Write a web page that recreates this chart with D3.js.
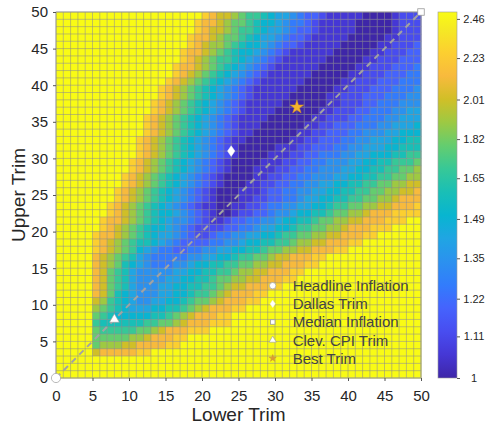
<!DOCTYPE html>
<html>
<head>
<meta charset="utf-8">
<script src="https://cdn.jsdelivr.net/npm/d3@7"></script>
<style>
  body { margin: 0; background: #fff; }
  text { font-family: "Liberation Sans", Arial, Helvetica, sans-serif; }
</style>
</head>
<body>
<svg id="chart" width="485" height="431"></svg>
<script>
/* Trim heatmap, D3 */

// one row per upper trim (49 at the top down to 0), one hex code per lower trim 0..49
var cellRows = [
    "ffffffffff ffffffffff edccba9987 6654332111 1100001222",
    "ffffffffff fffffffffe ddcbaa9877 6544321111 1000001222",
    "ffffffffff fffffffffe dccba99876 6543321111 1000001222",
    "ffffffffff ffffffffed dcbaa98766 5433211111 0000011222",
    "ffffffffff ffffffffed cbba987765 4332111110 0000112223",
    "ffffffffff fffffffedd cba9877654 3211111100 0001122233",
    "ffffffffff fffffffedc ba99876543 2111111000 0011222333",
    "ffffffffff ffffffeddc ba98765432 1111110000 0112223334",
    "ffffffffff ffffffedcb a987654321 1111100000 1122233344",
    "ffffffffff fffffedcba 9876543211 1111000001 1222333444",
    "ffffffffff ffffedcba9 8765432111 1110000011 2223334445",
    "ffffffffff ffffedcba9 8765432111 1100000112 2233344455",
    "ffffffffff fffedcba98 7654321111 1000000112 2233444555",
    "ffffffffff fffedcba98 7654321111 0000001122 2334445566",
    "ffffffffff ffedcba987 6543211110 0000011222 3344455666",
    "ffffffffff ffedcba987 6543211100 0000112233 3444556667",
    "ffffffffff ffedcba987 6543211000 0001122333 4455566777",
    "ffffffffff fedcba9876 5432110000 0011223334 4556667788",
    "ffffffffff fedcba9876 5432100000 1112233344 5566677888",
    "ffffffffff fedcba9876 5432100001 1122334445 5667778899",
    "ffffffffff edcba98765 4321000011 1223344555 667788999a",
    "ffffffffff edcba98765 4321000111 2233445556 6778899aab",
    "fffffffffe dcba987654 3210000112 2334455566 778899aabb",
    "fffffffffe dcba987654 3210001122 3344556677 8899aabbcc",
    "ffffffffed cba9876543 2100011123 3445566778 899aabbccd",
    "ffffffffed cba9876543 2100011223 3445667788 99aabbcddd",
    "fffffffedc ba98765432 1100112234 4556677899 aabbccddde",
    "fffffffedc ba98776543 2100122334 55677889aa bbcdddeeee",
    "ffffffeddc ba98765543 2112334455 677889aabb ccdddeeeff",
    "ffffffedcb a987765432 2223344566 77899aabbc dddeeeffff",
    "fffffeddcb a987665432 2344556677 899aabbccd ddeeffffff",
    "fffffedcba 9887654333 3445567788 99abbccddd eeffffffff",
    "fffffedcba 9765443344 556677889a abbccdddee ffffffffff",
    "fffffdcba9 8654444455 6677899aab ccdddeefff ffffffffff",
    "fffffdcba8 7654445567 78899aabbc cdddeeffff ffffffffff",
    "fffffdca98 6555556677 8899abbccd ddeeffffff ffffffffff",
    "fffffdca98 6555566778 89aabbccdd deefffffff ffffffffff",
    "fffffdca98 6555667788 99abccddde efffffffff ffffffffff",
    "fffffdca87 6555667789 9abcdddeef ffffffffff ffffffffff",
    "fffffcb987 655667789a abcdddeeff ffffffffff ffffffffff",
    "fffffba987 66677889ab cdddeeffff ffffffffff ffffffffff",
    "fffffa9877 777889abcd ddeeffffff ffffffffff ffffffffff",
    "fffff98888 8899aabcdd deeeffffff ffffffffff ffffffffff",
    "fffffa9999 9aabcdddee efffffffff ffffffffff ffffffffff",
    "fffffaaaaa bbcdddeeff ffffffffff ffffffffff ffffffffff",
    "fffffabbbc cddddeefff ffffffffff ffffffffff ffffffffff",
    "fffffcdddd deefffffff ffffffffff ffffffffff ffffffffff",
    "ffffffffff ffffffffff ffffffffff ffffffffff ffffffffff",
    "ffffffffff ffffffffff ffffffffff ffffffffff ffffffffff",
    "ffffffffff ffffffffff ffffffffff ffffffffff ffffffffff"
];

// value of each hex code (0..f), read against the colour bar
var levelValues = [1.00, 1.06, 1.12, 1.19, 1.26, 1.34, 1.42, 1.50, 1.59, 1.69, 1.79, 1.90, 2.01, 2.13, 2.26, 2.50];

var colorTicks = [1, 1.11, 1.22, 1.35, 1.49, 1.65, 1.82, 2.01, 2.23, 2.46];
var axisTicks = [0, 5, 10, 15, 20, 25, 30, 35, 40, 45, 50];

var markerNames = ["Headline Inflation", "Dallas Trim", "Median Inflation", "Clev. CPI Trim", "Best Trim"];
var markerLower = [0, 24, 50, 8, 33];
var markerUpper = [0, 31, 50, 8, 37];

var svg = d3.select("#chart");

var x = d3.scaleLinear().domain([0, 50]).range([56, 421]);
var y = d3.scaleLinear().domain([0, 50]).range([378, 12]);
var cMax = 2.503;
var tScale = d3.scaleLog().domain([1, cMax]).range([0, 1]).clamp(true);
var cb = d3.scaleLog().domain([1, cMax]).range([378, 12]);

// parula, sampled every 4th entry of the 64 colour map
var parulaStops = [
    [0, "#3e26a8"], [4, "#4537d5"], [8, "#484df0"], [12, "#4563fd"], [16, "#327cfc"],
    [20, "#2b91ef"], [24, "#20a5e3"], [28, "#08b5d0"], [32, "#19bfb6"], [36, "#37c897"],
    [40, "#64cd6f"], [44, "#9dc943"], [48, "#d1bf27"], [52, "#f8ba3d"], [56, "#fccf30"],
    [60, "#f5e924"], [63, "#f9fb15"]
];

function parula(t) {
    var p = Math.max(0, Math.min(1, t)) * 63;
    for (var i = 1; i < parulaStops.length; i++) {
        var a = parulaStops[i - 1], b = parulaStops[i];
        if (p <= b[0]) {
            return d3.interpolateRgb(a[1], b[1])((p - a[0]) / (b[0] - a[0]));
        }
    }
    return parulaStops[parulaStops.length - 1][1];
}

var cells = [];
cellRows.forEach(function (row, r) {
    var codes = row.replace(/ /g, "").split("");
    codes.forEach(function (ch, lower) {
        cells.push({ lower: lower, upper: 49 - r, value: levelValues[parseInt(ch, 16)] });
    });
});

// heatmap cells
svg.append("g")
    .selectAll("rect")
    .data(cells)
    .enter().append("rect")
    .attr("x", function (d) { return x(d.lower); })
    .attr("y", function (d) { return y(d.upper + 1); })
    .attr("width", x(1) - x(0) + 0.4)
    .attr("height", y(0) - y(1) + 0.4)
    .attr("fill", function (d) { return parula(tScale(d.value)); });

// cell edges
var grid = svg.append("g")
    .attr("stroke", "#8c8c8c")
    .attr("stroke-opacity", 0.6)
    .attr("stroke-width", 0.9);
grid.selectAll("line.v")
    .data(d3.range(0, 51))
    .enter().append("line")
    .attr("class", "v")
    .attr("x1", function (d) { return x(d); })
    .attr("x2", function (d) { return x(d); })
    .attr("y1", y(0))
    .attr("y2", y(50));
grid.selectAll("line.h")
    .data(d3.range(0, 51))
    .enter().append("line")
    .attr("class", "h")
    .attr("y1", function (d) { return y(d); })
    .attr("y2", function (d) { return y(d); })
    .attr("x1", x(0))
    .attr("x2", x(50));

// 45 degree reference
svg.append("line")
    .attr("x1", x(0)).attr("y1", y(0))
    .attr("x2", x(50)).attr("y2", y(50))
    .attr("stroke", "#a3a3a3")
    .attr("stroke-width", 2)
    .attr("stroke-dasharray", "6,5");

// box
svg.append("rect")
    .attr("x", x(0)).attr("y", y(50))
    .attr("width", x(50) - x(0)).attr("height", y(0) - y(50))
    .attr("fill", "none")
    .attr("stroke", "#9a9a9a")
    .attr("stroke-width", 0.8);

function styleAxis(g, size) {
    g.select(".domain").remove();
    g.selectAll(".tick line").attr("stroke", "#555");
    g.selectAll(".tick text")
        .attr("fill", "#262626")
        .attr("font-size", size)
        .attr("font-family", "Liberation Sans, Arial, sans-serif");
}

svg.append("g")
    .attr("transform", "translate(0," + y(0) + ")")
    .call(d3.axisBottom(x).tickValues(axisTicks).tickSize(3).tickPadding(9))
    .call(styleAxis, 15);

svg.append("g")
    .attr("transform", "translate(" + x(0) + ",0)")
    .call(d3.axisLeft(y).tickValues(axisTicks).tickSize(3).tickPadding(5))
    .call(styleAxis, 15);

svg.append("text")
    .attr("x", (x(0) + x(50)) / 2)
    .attr("y", 421)
    .attr("text-anchor", "middle")
    .attr("font-size", 19)
    .attr("fill", "#262626")
    .text("Lower Trim");

svg.append("text")
    .attr("transform", "translate(25," + (y(0) + y(50)) / 2 + ") rotate(-90)")
    .attr("text-anchor", "middle")
    .attr("font-size", 19)
    .attr("fill", "#262626")
    .text("Upper Trim");

// marker shapes
function drawMarker(g, i, small) {
    var k = small ? 0.7 : 1;
    if (i === 0) {
        g.append("circle").attr("r", 4.6 * k)
            .attr("fill", "#fff").attr("stroke", "#a8a8a8").attr("stroke-width", 0.8);
    } else if (i === 1) {
        var w = 3.7 * k, h = 5.3 * k;
        g.append("path").attr("d", "M0," + (-h) + "L" + w + ",0L0," + h + "L" + (-w) + ",0Z")
            .attr("fill", "#fff").attr("stroke", "#eee").attr("stroke-width", 0.5);
    } else if (i === 2) {
        var s = 6.5 * k;
        g.append("rect").attr("x", -s / 2).attr("y", -s / 2).attr("width", s).attr("height", s)
            .attr("fill", "#fff").attr("stroke", "#999").attr("stroke-width", 0.8);
    } else if (i === 3) {
        g.append("path").attr("d", d3.symbol().type(d3.symbolTriangle).size(small ? 22 : 42)())
            .attr("fill", "#fff").attr("stroke", "#999").attr("stroke-width", 0.6);
    } else {
        g.append("path").attr("d", d3.symbol().type(d3.symbolStar).size(small ? 16 : 58)())
            .attr("fill", small ? "#d99a3a" : "#f4b42c")
            .attr("stroke", "#d08f28").attr("stroke-width", 0.5);
    }
}

markerNames.forEach(function (name, i) {
    var g = svg.append("g")
        .attr("transform", "translate(" + x(markerLower[i]) + "," + y(markerUpper[i]) + ")");
    drawMarker(g, i, false);
});

// legend, no frame
var legend = svg.append("g");
markerNames.forEach(function (name, i) {
    var ly = 285.7 + i * 18.15;
    var g = legend.append("g").attr("transform", "translate(272.7," + ly + ")");
    drawMarker(g, i, true);
    legend.append("text")
        .attr("x", 292.7)
        .attr("y", ly)
        .attr("dy", "0.36em")
        .attr("font-size", 15)
        .attr("fill", "#444")
        .text(name);
});

// colour bar
var defs = svg.append("defs");
var grad = defs.append("linearGradient")
    .attr("id", "parulaGrad")
    .attr("x1", 0).attr("y1", 1).attr("x2", 0).attr("y2", 0);
parulaStops.forEach(function (s) {
    grad.append("stop").attr("offset", s[0] / 63).attr("stop-color", s[1]);
});

svg.append("rect")
    .attr("x", 438).attr("y", cb(cMax))
    .attr("width", 19).attr("height", cb(1) - cb(cMax))
    .attr("fill", "url(#parulaGrad)")
    .attr("stroke", "#9a9a9a")
    .attr("stroke-width", 0.6);

var cbAxis = svg.append("g")
    .attr("transform", "translate(457,0)")
    .call(d3.axisRight(cb).tickValues(colorTicks).tickSize(3).tickPadding(3)
        .tickFormat(function (d) { return d === 1 ? "1" : d.toFixed(2); }))
    .call(styleAxis, 11);
cbAxis.selectAll(".tick text")
    .attr("text-anchor", "middle")
    .attr("x", 17);
</script>
</body>
</html>
